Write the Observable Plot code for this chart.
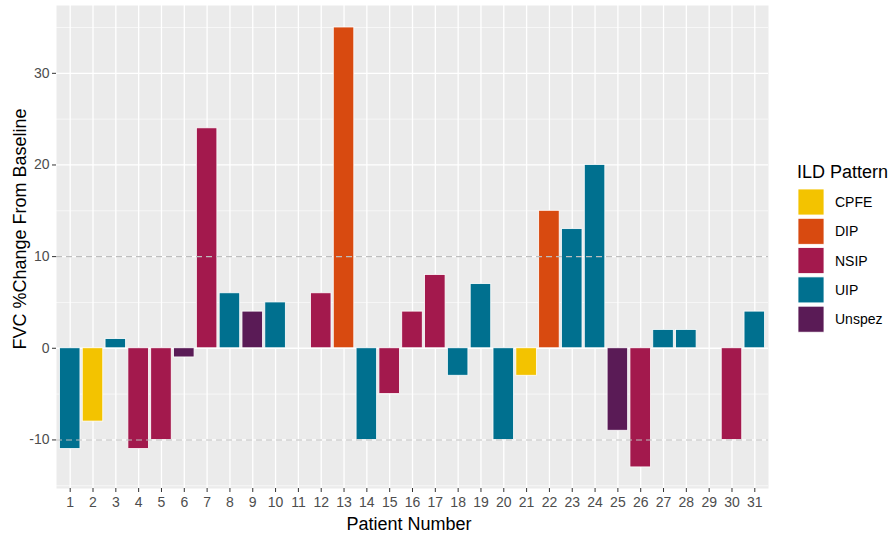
<!DOCTYPE html>
<html>
<head>
<meta charset="utf-8">
<script src="https://cdn.jsdelivr.net/npm/d3@7"></script>
<script src="https://cdn.jsdelivr.net/npm/@observablehq/plot@0.6"></script>
<style>
  html, body { margin: 0; padding: 0; background: #fff; }
  body { font-family: "Liberation Sans", Arial, sans-serif; }
</style>
</head>
<body>
<div id="chart"></div>
<script>
const patients = ["1","2","3","4","5","6","7","8","9","10","11","12","13","14","15","16","17","18","19","20","21","22","23","24","25","26","27","28","29","30","31"];
const changes  = [-11, -8, 1, -11, -10, -1, 24, 6, 4, 5, null, 6, 35, -10, -5, 4, 8, -3, 7, -10, -3, 15, 13, 20, -9, -13, 2, 2, null, -10, 4];
const patterns = ["UIP","CPFE","UIP","NSIP","NSIP","Unspez","NSIP","UIP","Unspez","UIP",null,"NSIP","DIP","UIP","NSIP","NSIP","NSIP","UIP","UIP","UIP","CPFE","DIP","UIP","UIP","Unspez","NSIP","UIP","UIP",null,"NSIP","UIP"];
const categories = ["CPFE","DIP","NSIP","UIP","Unspez"];
const colors = ["#F3C300","#D84A10","#A3194D","#00708F","#5A1B56"];
const majorTicks = [-10, 0, 10, 20, 30];
const minorTicks = [-15, -5, 5, 15, 25, 35];
const refLines = [-10, 10];

const data = patients.map((p, i) => ({patient: p, value: changes[i], pattern: patterns[i]}))
  .filter(d => d.value != null);

const plot = Plot.plot({
  width: 893,
  height: 536,
  marginLeft: 56,
  marginRight: 125,
  marginTop: 5,
  marginBottom: 48,
  style: {fontFamily: "'Liberation Sans', Arial, sans-serif", background: "#fff"},
  x: {type: "band", domain: patients, paddingInner: 0.1, paddingOuter: 0.15, round: false, label: null},
  y: {domain: [-15.3, 37.4], label: null},
  color: {domain: categories, range: colors},
  marks: [
    Plot.frame({fill: "#EBEBEB", stroke: null}),
    Plot.gridY(minorTicks, {stroke: "#fff", strokeOpacity: 1, strokeWidth: 0.6}),
    Plot.gridY(majorTicks, {stroke: "#fff", strokeOpacity: 1, strokeWidth: 1.3}),
    Plot.gridX({stroke: "#fff", strokeOpacity: 1, strokeWidth: 1.3}),
    Plot.barY(data, {x: "patient", y1: 0, y2: "value", fill: "pattern", stroke: "#fff", strokeWidth: 0.8}),
    Plot.ruleY(refLines, {stroke: "#BEBEBE", strokeWidth: 1.1, strokeDasharray: "6,4"}),
    Plot.axisY(majorTicks, {tickSize: 4, tickPadding: 3, fontSize: 14, color: "#4D4D4D", stroke: "#333", label: null, tickFormat: d => String(d)}),
    Plot.axisX({tickSize: 4, tickPadding: 5, fontSize: 14, color: "#4D4D4D", stroke: "#333", label: null})
  ]
});

document.getElementById("chart").appendChild(plot);

const svg = d3.select(plot);
svg.append("text")
  .attr("transform", "translate(26,229) rotate(-90)")
  .attr("text-anchor", "middle")
  .attr("font-size", 18)
  .attr("fill", "#000")
  .text("FVC %Change From Baseline");
svg.append("text")
  .attr("x", 409).attr("y", 530)
  .attr("text-anchor", "middle")
  .attr("font-size", 18)
  .attr("fill", "#000")
  .text("Patient Number");

const colorScale = plot.scale("color");
const leg = svg.append("g").attr("text-anchor", "start");
leg.append("text")
  .attr("x", 797).attr("y", 178)
  .attr("text-anchor", "start")
  .attr("font-size", 18)
  .attr("fill", "#000")
  .text("ILD Pattern");
categories.forEach((c, i) => {
  const y0 = 189 + i * 29.3;
  leg.append("rect")
    .attr("x", 798).attr("y", y0).attr("width", 26).attr("height", 26)
    .attr("fill", colorScale.apply(c)).attr("stroke", "#fff").attr("stroke-width", 0.8);
  leg.append("text")
    .attr("x", 835).attr("y", y0 + 13)
    .attr("dy", "0.35em")
    .attr("text-anchor", "start")
    .attr("font-size", 14)
    .attr("fill", "#000")
    .text(c);
});
</script>
</body>
</html>
